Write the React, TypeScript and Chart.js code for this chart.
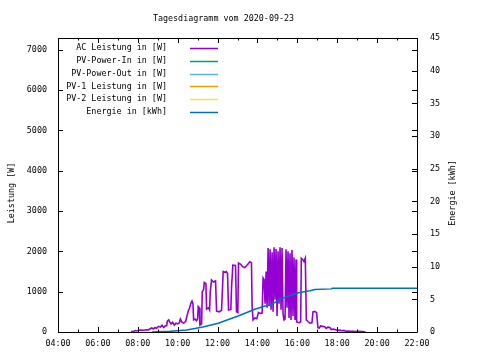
import React, { useEffect, useRef } from "react";
import { Chart, registerables } from "chart.js";

Chart.register(...registerables);

const TITLE = "Tagesdiagramm vom 2020-09-23";
const Y_LABEL = "Leistung [W]";
const Y2_LABEL = "Energie [kWh]";
const X_TICKS = [4, 6, 8, 10, 12, 14, 16, 18, 20, 22];
const X_MINOR_TICKS = [5, 7, 9, 11, 13, 15, 17, 19, 21];
const LEFT_TICKS = [0, 1000, 2000, 3000, 4000, 5000, 6000, 7000];
const RIGHT_TICKS = [0, 5, 10, 15, 20, 25, 30, 35, 40, 45];

const SERIES_LABELS = [
  "AC Leistung in [W]",
  "PV-Power-In in [W]",
  "PV-Power-Out in [W]",
  "PV-1 Leistung in [W]",
  "PV-2 Leistung in [W]",
  "Energie in [kWh]",
];
const SERIES_COLORS = ["#9400D3", "#009E73", "#56B4E9", "#E69F00", "#F0E442", "#0072B2"];

const AC_TIMES = [
  "07:40", "07:42", "07:48", "07:52", "07:58", "08:02", "08:10", "08:18", "08:25", "08:32",
  "08:37", "08:42", "08:47", "08:52", "08:57", "09:02", "09:08", "09:13", "09:18", "09:22",
  "09:27", "09:29", "09:33", "09:36", "09:40", "09:45", "09:50", "09:55", "10:00", "10:05",
  "10:08", "10:12", "10:18", "10:24", "10:28", "10:32", "10:36", "10:40", "10:43", "10:46",
  "10:48", "10:52", "10:57", "11:00", "11:02", "11:05", "11:07", "11:12", "11:14", "11:18",
  "11:20", "11:25", "11:27", "11:33", "11:36", "11:38", "11:42", "11:48", "11:54", "11:57",
  "12:05", "12:12", "12:17", "12:22", "12:26", "12:30", "12:33", "12:40", "12:42", "12:46",
  "12:54", "12:57", "13:01", "13:03", "13:10", "13:15", "13:22", "13:28", "13:33", "13:37",
  "13:42", "13:44", "13:47", "13:52", "13:58", "14:03", "14:10", "14:14", "14:17", "14:20",
  "14:23", "14:26", "14:29", "14:32", "14:35", "14:38", "14:41", "14:44", "14:47", "14:50",
  "14:53", "14:56", "14:59", "15:02", "15:05", "15:08", "15:11", "15:14", "15:17", "15:20",
  "15:23", "15:26", "15:29", "15:32", "15:35", "15:38", "15:41", "15:44", "15:47", "15:50",
  "15:53", "15:56", "15:58", "16:05", "16:10", "16:12", "16:16", "16:20", "16:24", "16:27",
  "16:32", "16:38", "16:44", "16:47", "16:52", "16:58", "17:02", "17:06", "17:10", "17:16",
  "17:22", "17:27", "17:32", "17:38", "17:42", "17:48", "17:55", "18:02", "18:08", "18:14",
  "18:20", "18:26", "18:33", "18:40", "18:48", "18:55", "19:05", "19:15", "19:25",
];
const AC_VALUES = [
  0, 15, 20, 35, 25, 45, 50, 45, 55, 50,
  80, 100, 75, 110, 90, 140, 120, 165, 110, 150,
  160, 270, 300, 250, 200, 240, 170, 220, 200, 230,
  320, 250, 220, 260, 400, 520, 600, 720, 770, 700,
  300, 320, 280, 330, 630, 600, 170, 200, 1000, 1050,
  1230, 1200, 570, 600, 550, 1000, 1290, 1240, 1270, 520,
  500, 540, 1500, 1480, 1500, 1450, 545, 560, 1090, 1660,
  1650, 500, 480, 1710, 1680, 1620, 1600, 1650, 1700, 1740,
  1720, 620, 300, 350, 330, 480, 460, 470, 1340, 1300,
  700, 1500, 600, 2080, 650, 2050, 550, 1980, 500, 2100,
  800, 2060, 400, 2000, 700, 2100, 550, 2080, 450, 300,
  320, 2050, 600, 2000, 350, 1950, 300, 2030, 400, 1850,
  300, 1800, 250, 230, 250, 1830, 1800, 1750, 1830, 300,
  260, 220, 230, 500, 510, 480, 110, 100, 150, 140,
  130, 90, 120, 110, 60, 70, 55, 40, 45, 30,
  40, 20, 25, 15, 20, 10, 15, 10, 5,
];

const ENERGY_TIMES = [
  "08:43", "09:36", "10:27", "10:52", "11:16", "12:02", "13:02", "13:52", "14:23",
  "14:38", "15:08", "15:23", "16:03", "16:38", "16:53", "17:43", "17:45", "22:00",
];
const ENERGY_VALUES = [0, 0.1, 0.3, 0.55, 0.75, 1.33, 2.45, 3.47, 3.98, 4.1, 5.0, 5.3, 6.0, 6.3, 6.5, 6.6, 6.7, 6.7];

const FONT_FAMILY = '"DejaVu Sans Mono", monospace';
const FONT_SIZE = 8.4;

const toHours = (t: string) => {
  const [h, m] = t.split(":").map(Number);
  return h + m / 60;
};
const fmtHour = (v: number) => `${String(Math.floor(v)).padStart(2, "0")}:00`;

const decorPlugin = {
  id: "gnuplotDecor",
  afterDatasetsDraw(chart: any) {
    const { ctx, chartArea } = chart;
    const { left, right, top, bottom } = chartArea;
    const xs = chart.scales.x;
    const ys = chart.scales.y;
    const y2s = chart.scales.y2;
    ctx.save();
    ctx.strokeStyle = "#000";
    ctx.lineWidth = 1;
    ctx.beginPath();
    ctx.rect(Math.round(left) + 0.5, Math.round(top) + 0.5, Math.round(right - left), Math.round(bottom - top));
    ctx.stroke();
    ctx.beginPath();
    const crisp = (v: number) => Math.round(v) + 0.5;
    X_TICKS.forEach((v) => {
      const px = crisp(xs.getPixelForValue(v));
      ctx.moveTo(px, bottom);
      ctx.lineTo(px, bottom - 5);
      ctx.moveTo(px, top);
      ctx.lineTo(px, top + 5);
    });
    X_MINOR_TICKS.forEach((v) => {
      const px = crisp(xs.getPixelForValue(v));
      ctx.moveTo(px, bottom);
      ctx.lineTo(px, bottom - 2.5);
      ctx.moveTo(px, top);
      ctx.lineTo(px, top + 2.5);
    });
    LEFT_TICKS.forEach((v) => {
      const py = crisp(ys.getPixelForValue(v));
      ctx.moveTo(left, py);
      ctx.lineTo(left + 5, py);
      ctx.moveTo(right, py);
      ctx.lineTo(right - 5, py);
    });
    RIGHT_TICKS.forEach((v) => {
      const py = crisp(y2s.getPixelForValue(v));
      ctx.moveTo(right, py);
      ctx.lineTo(right - 5, py);
    });
    ctx.stroke();

    ctx.fillStyle = "#000";
    ctx.font = `${FONT_SIZE}px ${FONT_FAMILY}`;
    ctx.textBaseline = "middle";
    ctx.textAlign = "center";
    ctx.fillText(TITLE, 223.5, 18.5);

    ctx.save();
    ctx.translate(11.5, 193);
    ctx.rotate(-Math.PI / 2);
    ctx.fillText(Y_LABEL, 0, 0);
    ctx.restore();
    ctx.save();
    ctx.translate(453, 193);
    ctx.rotate(-Math.PI / 2);
    ctx.fillText(Y2_LABEL, 0, 0);
    ctx.restore();

    chart.data.datasets.forEach((ds: any, i: number) => {
      const y = 48.3 + i * 12.7;
      ctx.textAlign = "right";
      ctx.fillStyle = "#000";
      ctx.fillText(ds.label, 167, y);
      ctx.strokeStyle = ds.borderColor;
      ctx.lineWidth = 1.5;
      ctx.beginPath();
      ctx.moveTo(190, Math.round(y) + 0.5);
      ctx.lineTo(218, Math.round(y) + 0.5);
      ctx.stroke();
    });
    ctx.restore();
  },
};

export default function App() {
  const canvasRef = useRef<HTMLCanvasElement | null>(null);

  useEffect(() => {
    document.body.style.margin = "0";
    const canvas = canvasRef.current;
    if (!canvas) return;
    const acData = AC_TIMES.map((t, i) => ({ x: toHours(t), y: AC_VALUES[i] }));
    const energyData = ENERGY_TIMES.map((t, i) => ({ x: toHours(t), y: ENERGY_VALUES[i] }));
    const dataFor = (i: number) => (i === 0 ? acData : i === 5 ? energyData : []);
    const datasets = SERIES_LABELS.map((label, i) => ({
      label,
      data: dataFor(i),
      borderColor: SERIES_COLORS[i],
      backgroundColor: SERIES_COLORS[i],
      borderWidth: i === 0 ? 1.6 : 1.5,
      yAxisID: i === 5 ? "y2" : "y",
      pointRadius: 0,
      tension: 0,
      fill: false,
      order: i === 5 ? 0 : 1,
    }));
    const tickFont = { family: FONT_FAMILY, size: FONT_SIZE };
    const chart = new Chart(canvas, {
      type: "line",
      data: { datasets },
      options: {
        animation: false,
        responsive: false,
        maintainAspectRatio: false,
        layout: { padding: { top: 38, left: 0, right: 0, bottom: 0 } },
        plugins: {
          legend: { display: false },
          title: { display: false },
          tooltip: { enabled: false },
        },
        scales: {
          x: {
            type: "linear",
            min: 4,
            max: 22,
            afterBuildTicks: (s: any) => {
              s.ticks = X_TICKS.map((v) => ({ value: v }));
            },
            afterFit: (s: any) => {
              s.height = 28;
            },
            ticks: {
              callback: (v: any) => fmtHour(Number(v)),
              font: tickFont,
              color: "#000",
              padding: 7,
              maxRotation: 0,
              autoSkip: false,
            },
            grid: { display: false, drawTicks: false },
            border: { display: false },
          },
          y: {
            type: "linear",
            position: "left",
            min: 0,
            max: 7290,
            afterBuildTicks: (s: any) => {
              s.ticks = LEFT_TICKS.map((v) => ({ value: v }));
            },
            afterFit: (s: any) => {
              s.width = 58;
            },
            ticks: { font: tickFont, color: "#000", padding: 11, callback: (v: any) => String(v) },
            grid: { display: false, drawTicks: false },
            border: { display: false },
          },
          y2: {
            type: "linear",
            position: "right",
            min: 0,
            max: 45,
            afterBuildTicks: (s: any) => {
              s.ticks = RIGHT_TICKS.map((v) => ({ value: v }));
            },
            afterFit: (s: any) => {
              s.width = 63;
            },
            ticks: { font: tickFont, color: "#000", padding: 13, callback: (v: any) => String(v) },
            grid: { display: false, drawTicks: false },
            border: { display: false },
          },
        },
      },
      plugins: [decorPlugin],
    } as any);
    return () => chart.destroy();
  }, []);

  return <canvas ref={canvasRef} width={480} height={360} style={{ display: "block" }} />;
}
